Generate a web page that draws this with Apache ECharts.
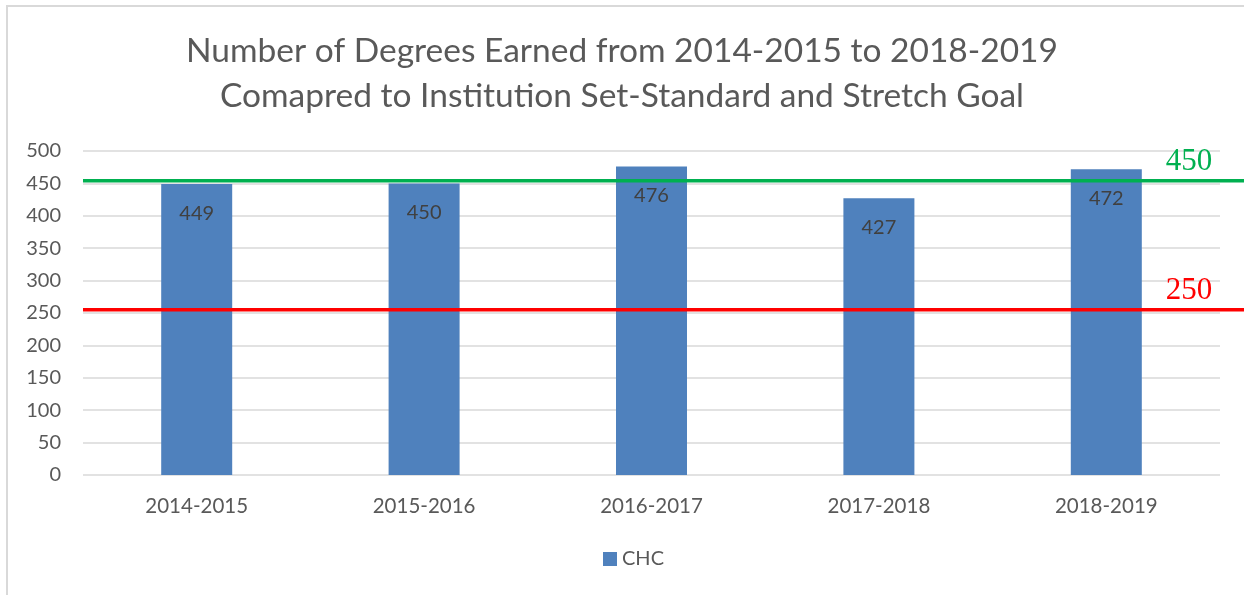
<!DOCTYPE html>
<html>
<head>
<meta charset="utf-8">
<script src="https://cdn.jsdelivr.net/npm/echarts@6/dist/echarts.min.js"></script>
<style>
  html, body { margin: 0; padding: 0; background: #fff; }
  #chart { width: 1244px; height: 595px; }
</style>
</head>
<body>
<div id="chart"></div>
<script>
const years = ["2014-2015", "2015-2016", "2016-2017", "2017-2018", "2018-2019"];
const degrees = [449, 450, 476, 427, 472];
const yTicks = [0, 500, 50];
// reference lines as drawn, with the text shown beside them
const stretchGoal = [454, 454];
const stretchGoalText = "450";
const setStandard = [255, 255];
const setStandardText = "250";

const lineLabel = (text, color) => ({
    show: true,
    position: "top",
    distance: 3,
    offset: [-55, 0],
    formatter: (p) => (p.dataIndex === 1 ? text : ""),
    color: color,
    fontFamily: "Liberation Serif",
    fontSize: 31
});

const initChart = () => {
    const myChart = echarts.init(document.getElementById("chart"));
    const option = {
        animation: false,
        backgroundColor: "#fff",
        textStyle: { fontFamily: "Lato" },
        title: {
            text: "Number of Degrees Earned from 2014-2015 to 2018-2019\nComapred to Institution Set-Standard and Stretch Goal",
            left: "center",
            top: 24,
            textStyle: { color: "#595959", fontSize: 33.5, fontWeight: "normal", lineHeight: 45, fontFamily: "Lato" }
        },
        legend: {
            bottom: 21,
            left: 598,
            data: ["CHC"],
            itemWidth: 14,
            itemHeight: 14,
            itemGap: 6,
            icon: "rect",
            textStyle: { color: "#595959", fontSize: 20 }
        },
        graphic: [{
            type: "rect",
            shape: { x: 7, y: 6, width: 1400, height: 800 },
            style: { fill: "none", stroke: "#d9d9d9", lineWidth: 2 },
            silent: true
        }],
        grid: [
            { left: 83, right: 24, top: 151, bottom: 120 },
            { left: 83, right: 0, top: 151, bottom: 120 }
        ],
        xAxis: [{
            type: "category",
            data: years,
            gridIndex: 0,
            axisLine: { show: false },
            axisTick: { show: false },
            axisLabel: { color: "#595959", fontSize: 20.5, margin: 21 }
        }, {
            type: "category",
            data: ["a", "b"],
            gridIndex: 1,
            boundaryGap: false,
            show: false
        }],
        yAxis: [{
            type: "value",
            gridIndex: 0,
            min: yTicks[0],
            max: yTicks[1],
            interval: yTicks[2],
            axisLine: { show: false },
            axisTick: { show: false },
            axisLabel: { color: "#595959", fontSize: 20, margin: 22 },
            splitLine: { lineStyle: { color: "#d9d9d9", width: 1.5 } }
        }, {
            type: "value",
            gridIndex: 1,
            min: yTicks[0],
            max: yTicks[1],
            show: false,
            splitLine: { show: false }
        }],
        series: [{
            name: "CHC",
            type: "bar",
            data: degrees,
            barWidth: 71,
            itemStyle: { color: "#4f81bd" },
            label: {
                show: true,
                position: "insideTop",
                distance: 19,
                color: "#404040",
                fontSize: 20
            }
        }, {
            name: "stretch",
            type: "line",
            xAxisIndex: 1,
            yAxisIndex: 1,
            symbol: "circle",
            symbolSize: 0.1,
            showSymbol: true,
            clip: false,
            lineStyle: { color: "#00b050", width: 3.5 },
            itemStyle: { color: "#00b050" },
            label: lineLabel(stretchGoalText, "#00b050"),
            data: stretchGoal,
            z: 5
        }, {
            name: "standard",
            type: "line",
            xAxisIndex: 1,
            yAxisIndex: 1,
            symbol: "circle",
            symbolSize: 0.1,
            showSymbol: true,
            clip: false,
            lineStyle: { color: "#ff0000", width: 3.5 },
            itemStyle: { color: "#ff0000" },
            label: lineLabel(setStandardText, "#ff0000"),
            data: setStandard,
            z: 5
        }]
    };
    myChart.setOption(option);
};

window.addEventListener("load", initChart);
</script>
</body>
</html>
